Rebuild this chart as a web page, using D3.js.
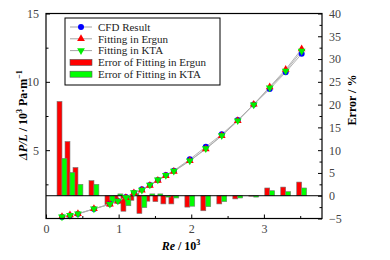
<!DOCTYPE html>
<html>
<head>
<meta charset="utf-8">
<script src="https://cdn.jsdelivr.net/npm/d3@7"></script>
<style>
  body { margin: 0; background: #fff; }
</style>
</head>
<body>
<div id="chart"></div>
<script>
// Re / 10^3 for each simulated case
const re = [0.22, 0.33, 0.44, 0.66, 0.88, 0.99, 1.10, 1.21, 1.32, 1.43, 1.54, 1.65, 1.76, 1.98, 2.20, 2.42, 2.64, 2.86, 3.08, 3.30, 3.52];

// pressure drop per length, 10^3 Pa/m
const cfd   = [0.11, 0.22, 0.33, 0.69, 1.06, 1.28, 1.57, 1.89, 2.14, 2.45, 2.82, 3.18, 3.50, 4.33, 5.25, 6.16, 7.20, 8.35, 9.47, 10.70, 12.05];
const ergun = [0.13, 0.25, 0.35, 0.71, 1.04, 1.27, 1.52, 1.87, 2.06, 2.42, 2.78, 3.12, 3.44, 4.22, 5.08, 6.05, 7.15, 8.35, 9.63, 10.90, 12.41];
const kta   = [0.12, 0.23, 0.34, 0.71, 1.05, 1.29, 1.54, 1.90, 2.08, 2.46, 2.83, 3.17, 3.48, 4.23, 5.12, 6.08, 7.16, 8.33, 9.57, 10.80, 12.25];

// relative error of the fittings, %
const errErgun = [20.7, 11.9, 6.2, 3.3, -2.0, -0.9, -3.4, -1.0, -3.9, -1.2, -1.3, -1.8, -1.8, -2.5, -3.3, -1.8, -0.7, -0.1, 1.7, 1.9, 3.0];
const errKta   = [8.2, 5.1, 2.5, 2.5, -1.4, 0.4, -2.2, 0.5, -2.6, 0.4, 0.4, -0.3, -0.5, -2.3, -2.4, -1.3, -0.5, -0.3, 1.1, 0.9, 1.7];

const xTicks = [0, 1, 2, 3];
const xMinor = [0.5, 1.5, 2.5, 3.5];
const yTicks = [5, 10, 15];
const yMinor = [2.5, 7.5, 12.5];
const errTicks = [-5, 0, 5, 10, 15, 20, 25, 30, 35, 40];
const errMinor = [-2.5, 2.5, 7.5, 12.5, 17.5, 22.5, 27.5, 32.5, 37.5];

const W = 390, H = 260;
const mLeft = 46, mRight = 322, mTop = 13.5, mBottom = 218.5;
const barW = 0.068; // bar width in Re units
const serif = "'Liberation Serif', 'Times New Roman', 'DejaVu Serif', serif";

const svg = d3.select("#chart").append("svg")
    .attr("width", W)
    .attr("height", H)
    .style("font-family", serif);

const x = d3.scaleLinear().domain([0, 3.8]).range([mLeft, mRight]);
const y = d3.scaleLinear().domain([0, 15]).range([mBottom, mTop]);
const yErr = d3.scaleLinear().domain([-5, 40]).range([mBottom, mTop]);

const rows = re.map((r, i) => ({ re: r, cfd: cfd[i], ergun: ergun[i], kta: kta[i], eE: errErgun[i], eK: errKta[i] }));

// error bars (drawn first, under the curves)
const bars = svg.append("g");
function drawBars(key, x0, x1, color) {
    bars.selectAll(null)
        .data(rows)
        .join("rect")
        .attr("x", d => x(x0(d)))
        .attr("y", d => yErr(Math.max(0, d[key])))
        .attr("width", d => x(x1(d)) - x(x0(d)))
        .attr("height", d => Math.abs(yErr(d[key]) - yErr(0)))
        .attr("fill", color)
        .attr("stroke", "#777")
        .attr("stroke-width", 0.6);
}
drawBars("eE", d => d.re - barW, d => d.re, "#ff0000");
drawBars("eK", d => d.re, d => d.re + barW, "#00ff00");

// zero line of the error axis
svg.append("line")
    .attr("x1", mLeft).attr("x2", mRight)
    .attr("y1", yErr(0)).attr("y2", yErr(0))
    .attr("stroke", "#000").attr("stroke-width", 1);

// connecting lines
["ergun", "kta", "cfd"].forEach(k => {
    svg.append("path")
        .datum(rows)
        .attr("fill", "none")
        .attr("stroke", "#aaa")
        .attr("stroke-width", 0.9)
        .attr("d", d3.line().x(d => x(d.re)).y(d => y(d[k])));
});

// markers
svg.append("g").selectAll("circle")
    .data(rows)
    .join("circle")
    .attr("cx", d => x(d.re))
    .attr("cy", d => y(d.cfd))
    .attr("r", 3)
    .attr("fill", "#0000ff");

const tri = d3.symbol().type(d3.symbolTriangle).size(26);
svg.append("g").selectAll("path")
    .data(rows)
    .join("path")
    .attr("d", tri)
    .attr("transform", d => `translate(${x(d.re)},${y(d.ergun)})`)
    .attr("fill", "#ff0000");

svg.append("g").selectAll("path")
    .data(rows)
    .join("path")
    .attr("d", tri)
    .attr("transform", d => `translate(${x(d.re)},${y(d.kta)}) rotate(180)`)
    .attr("fill", "#00ee00");

// axes, ticks point inward
function styleAxis(g) {
    g.attr("font-family", null);
    g.select(".domain").remove();
    g.selectAll("line").attr("stroke", "#000");
    g.selectAll("text").attr("font-size", 12).attr("fill", "#444").style("font-family", serif);
}

svg.append("g")
    .attr("transform", `translate(0,${mBottom})`)
    .call(d3.axisBottom(x).tickValues(xTicks).tickSize(-4).tickPadding(6).tickFormat(d3.format("d")))
    .call(styleAxis);
svg.append("g")
    .attr("transform", `translate(0,${mBottom})`)
    .call(d3.axisBottom(x).tickValues(xMinor).tickSize(-2.5).tickFormat(""))
    .call(styleAxis);

svg.append("g")
    .attr("transform", `translate(${mLeft},0)`)
    .call(d3.axisLeft(y).tickValues(yTicks).tickSize(-4).tickPadding(7))
    .call(styleAxis);
svg.append("g")
    .attr("transform", `translate(${mLeft},0)`)
    .call(d3.axisLeft(y).tickValues(yMinor).tickSize(-2.5).tickFormat(""))
    .call(styleAxis);

svg.append("g")
    .attr("transform", `translate(${mRight},0)`)
    .call(d3.axisRight(yErr).tickValues(errTicks).tickSize(-4).tickPadding(7)
        .tickFormat(d => d < 0 ? "\u2212" + Math.abs(d) : d))
    .call(styleAxis);
svg.append("g")
    .attr("transform", `translate(${mRight},0)`)
    .call(d3.axisRight(yErr).tickValues(errMinor).tickSize(-2.5).tickFormat(""))
    .call(styleAxis);

// frame
svg.append("rect")
    .attr("x", mLeft).attr("y", mTop)
    .attr("width", mRight - mLeft).attr("height", mBottom - mTop)
    .attr("fill", "none").attr("stroke", "#000").attr("stroke-width", 1.2);

// axis titles
const xt = svg.append("text")
    .attr("x", 181).attr("y", 250)
    .attr("text-anchor", "middle")
    .attr("font-size", 12).attr("font-weight", "bold");
xt.append("tspan").attr("font-style", "italic").text("Re");
xt.append("tspan").text(" / 10");
xt.append("tspan").attr("font-size", 8).attr("dy", -5).text("3");

const yt = svg.append("text")
    .attr("transform", "translate(27,115) rotate(-90)")
    .attr("text-anchor", "middle")
    .attr("font-size", 12).attr("font-weight", "bold");
yt.append("tspan").attr("font-style", "italic").text("\u0394P/L");
yt.append("tspan").text(" / 10");
yt.append("tspan").attr("font-size", 8).attr("dy", -5).text("3");
yt.append("tspan").attr("dy", 5).text(" Pa\u00b7m");
yt.append("tspan").attr("font-size", 8).attr("dy", -5).text("\u22121");

svg.append("text")
    .attr("transform", "translate(356,100) rotate(-90)")
    .attr("text-anchor", "middle")
    .attr("font-size", 12).attr("font-weight", "bold")
    .text("Error / %");

// legend
const legendItems = [
    { label: "CFD Result", kind: "circle", color: "#0000ff" },
    { label: "Fitting in Ergun", kind: "up", color: "#ff0000" },
    { label: "Fitting in KTA", kind: "down", color: "#00ee00" },
    { label: "Error of Fitting in Ergun", kind: "bar", color: "#ff0000" },
    { label: "Error of Fitting in KTA", kind: "bar", color: "#00ff00" }
];
const lg = svg.append("g").attr("transform", "translate(65,18)");
lg.append("rect")
    .attr("width", 155).attr("height", 67)
    .attr("fill", "#fff").attr("stroke", "#000").attr("stroke-width", 1);
legendItems.forEach((it, i) => {
    const cy = 9 + i * 11.8;
    const row = lg.append("g").attr("transform", `translate(0,${cy})`);
    if (it.kind === "bar") {
        row.append("rect").attr("x", 5).attr("y", -3).attr("width", 22).attr("height", 6)
            .attr("fill", it.color).attr("stroke", "#555").attr("stroke-width", 0.6);
    } else {
        row.append("line").attr("x1", 5).attr("x2", 27).attr("stroke", "#999").attr("stroke-width", 0.9);
        if (it.kind === "circle") {
            row.append("circle").attr("cx", 16).attr("r", 3).attr("fill", it.color);
        } else {
            row.append("path").attr("d", tri)
                .attr("transform", `translate(16,0)${it.kind === "down" ? " rotate(180)" : ""}`)
                .attr("fill", it.color);
        }
    }
    row.append("text").attr("x", 33).attr("y", 3.8)
        .attr("font-size", 11).attr("fill", "#222").text(it.label);
});
</script>
</body>
</html>
